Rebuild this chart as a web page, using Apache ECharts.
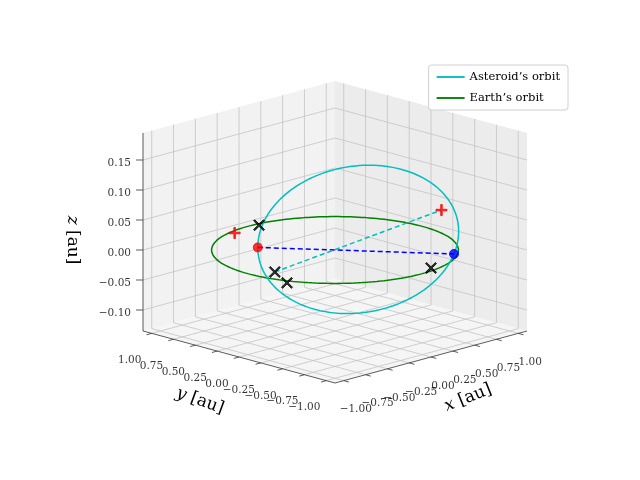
<!DOCTYPE html>
<html><head><meta charset="utf-8">
<script src="https://cdn.jsdelivr.net/npm/echarts@6/dist/echarts.min.js"></script>
<style>html,body{margin:0;padding:0;background:#fff}#c{width:640px;height:480px}</style>
</head><body><div id="c"></div>
<script>
// ---- data ----
const X_TICKS = [-1, -0.75, -0.5, -0.25, 0, 0.25, 0.5, 0.75, 1];
const Y_TICKS = [-1, -0.75, -0.5, -0.25, 0, 0.25, 0.5, 0.75, 1];
const Z_TICKS = [-0.1, -0.05, 0, 0.05, 0.1, 0.15];
const XY_LIM = [-1.1, 1.1];
const Z_LIM = [-0.135, 0.195];
// orbital elements: a [au], e, i [deg], Omega [deg], omega [deg]
const EARTH_ELEMENTS = [1.0, 0.0, 0, 0, 0];
const ASTEROID_ELEMENTS = [0.82, 0.26, 5.7, -52, 215];
const PLUS_POINTS = [[-0.85, 0.30, 0.05], [0.82, -0.40, 0.05]];
const CROSS_POINTS = [[0.09, 0.96, 0], [-0.81, -0.12, 0], [-0.97, -0.42, 0], [0.17, -0.93, 0]];
const CYAN_DASH = [[-0.81, -0.12, 0], [0.82, -0.40, 0.05]];

// ---- projection ----
const FONT = 'DejaVu Serif';
function P(x, y, z) {
  const X = x / 1.1, Y = y / 1.1;
  return [335 + 96 * (X - Y), 250 - 26 * (X + Y) - 600 * z];
}
function orbit(el, u) {
  const [a, e, i, O, w] = el;
  const ir = i * Math.PI / 180, Or = O * Math.PI / 180, wr = w * Math.PI / 180;
  const nu = u - wr;
  const r = a * (1 - e * e) / (1 + e * Math.cos(nu));
  return [r * (Math.cos(Or) * Math.cos(u) - Math.sin(Or) * Math.sin(u) * Math.cos(ir)),
          r * (Math.sin(Or) * Math.cos(u) + Math.cos(Or) * Math.sin(u) * Math.cos(ir)),
          r * Math.sin(u) * Math.sin(ir)];
}
function orbitPts(el) {
  const out = [];
  for (let k = 0; k <= 200; k++) { const p = orbit(el, k / 200 * 2 * Math.PI); out.push(P(p[0], p[1], p[2])); }
  return out;
}
const [L, H] = XY_LIM, [ZB, ZT] = Z_LIM;
const series = [];
function poly(pts3, color) {
  const pts = pts3.map(p => P(p[0], p[1], p[2]));
  series.push({ type: 'custom', silent: true, z: 1, data: [0],
    renderItem: (params, api) => ({ type: 'polygon', shape: { points: pts.map(p => api.coord(p)) },
      style: { fill: color, stroke: null } }) });
}
function line(pts3, color, width, type, z) {
  series.push({ type: 'line', data: pts3.map(p => P(p[0], p[1], p[2])), showSymbol: false, silent: true,
    z: z || 2, lineStyle: { color: color, width: width, type: type || 'solid' } });
}
// panes
poly([[L, H, ZB], [H, H, ZB], [H, H, ZT], [L, H, ZT]], '#f2f2f2');
poly([[H, L, ZB], [H, H, ZB], [H, H, ZT], [H, L, ZT]], '#ececec');
poly([[L, L, ZB], [H, L, ZB], [H, H, ZB], [L, H, ZB]], '#f5f5f5');
const G = '#c4c4c4';
X_TICKS.forEach(x => { line([[x, H, ZB], [x, H, ZT]], G, 0.8); line([[x, L, ZB], [x, H, ZB]], G, 0.8); });
Y_TICKS.forEach(y => { line([[H, y, ZB], [H, y, ZT]], G, 0.8); line([[L, y, ZB], [H, y, ZB]], G, 0.8); });
Z_TICKS.forEach(z => { line([[L, H, z], [H, H, z], [H, L, z]], G, 0.8); });
// axis edges
line([[L, L, ZB], [H, L, ZB]], '#333', 0.8);
line([[L, L, ZB], [L, H, ZB]], '#333', 0.8);
line([[L, H, ZB], [L, H, ZT]], '#333', 0.8);
// ticks
X_TICKS.forEach(x => line([[x, L, ZB], [x, L - 0.06, ZB]], '#333', 0.8));
Y_TICKS.forEach(y => line([[L, y, ZB], [L - 0.06, y, ZB]], '#333', 0.8));
Z_TICKS.forEach(z => line([[L, H, z], [L - 0.04, H + 0.04, z]], '#333', 0.8));
// tick labels
const fmt = v => (v < 0 ? '\u2212' : '') + Math.abs(v).toFixed(2);
function labels(pts, texts, dx, dy, align) {
  series.push({ type: 'scatter', symbolSize: 0, silent: true, z: 3,
    data: pts.map((p, k) => ({ value: P(p[0], p[1], p[2]), label: { formatter: texts[k] } })),
    label: { show: true, position: 'inside', offset: [dx, dy], align: align || 'center', verticalAlign: 'middle',
      fontFamily: FONT, fontSize: 10.5, color: '#000' } });
}
labels(X_TICKS.map(x => [x, L, ZB]), X_TICKS.map(fmt), 12, 29);
labels(Y_TICKS.map(y => [L, y, ZB]), Y_TICKS.map(fmt), -22, 27);
labels(Z_TICKS.map(z => [L, H, z]), Z_TICKS.map(fmt), -12, 3, 'right');
// orbits
series.push({ name: 'Earth\u2019s orbit', type: 'line', data: orbitPts(EARTH_ELEMENTS), showSymbol: false, z: 5,
  lineStyle: { color: '#008000', width: 1.5 }, itemStyle: { color: '#008000' } });
series.push({ name: 'Asteroid\u2019s orbit', type: 'line', data: orbitPts(ASTEROID_ELEMENTS), showSymbol: false, z: 5,
  lineStyle: { color: '#00bfbf', width: 1.5 }, itemStyle: { color: '#00bfbf' } });
const n1 = orbit(ASTEROID_ELEMENTS, Math.PI), n2 = orbit(ASTEROID_ELEMENTS, 0);
line([n1, n2], '#0000ff', 1.5, [5, 3], 6);
line(CYAN_DASH, '#00bfbf', 1.5, [5, 3], 6);
function pts(list, sym, size, color, z) {
  series.push({ type: 'scatter', data: list.map(p => P(p[0], p[1], p[2])), symbol: sym, symbolSize: size,
    silent: true, z: z || 8, itemStyle: { color: color, borderColor: color } });
}
pts([n1], 'circle', 9, '#ff0000');
pts([n2], 'circle', 9, '#0000ff');
const PLUS = 'path://M4.3,0H5.7V4.3H10V5.7H5.7V10H4.3V5.7H0V4.3H4.3Z';
const CROSS = 'path://M1,0L5,4L9,0L10,1L6,5L10,9L9,10L5,6L1,10L0,9L4,5L0,1Z';
pts(PLUS_POINTS, PLUS, 11, '#ff0000');
pts(CROSS_POINTS, CROSS, 11, '#000000');

const chart = echarts.init(document.getElementById('c'));
chart.setOption({
  animation: false,
  grid: { left: 0, right: 0, top: 0, bottom: 0 },
  xAxis: { type: 'value', min: 0, max: 640, show: false },
  yAxis: { type: 'value', min: 0, max: 480, inverse: true, show: false },
  legend: { data: ['Asteroid\u2019s orbit', 'Earth\u2019s orbit'], orient: 'vertical', right: 72, top: 65,
    icon: 'path://M0,4H30V6H0Z', itemWidth: 28, itemHeight: 3, itemGap: 9,
    backgroundColor: '#fff', borderColor: '#d0d0d0', borderWidth: 1, borderRadius: 3, padding: [6, 8],
    textStyle: { fontFamily: FONT, fontSize: 11.5, color: '#000' } },
  graphic: [
    { type: 'text', x: 468, y: 398, rotation: 22 * Math.PI / 180, style: { text: '{i|x} [au]', rich: { i: { fontStyle: 'italic', fontFamily: FONT, fontSize: 17 } }, fontFamily: FONT, fontSize: 17, align: 'center', verticalAlign: 'middle', fill: '#000' } },
    { type: 'text', x: 200, y: 401, rotation: -20 * Math.PI / 180, style: { text: '{i|y} [au]', rich: { i: { fontStyle: 'italic', fontFamily: FONT, fontSize: 17 } }, fontFamily: FONT, fontSize: 17, align: 'center', verticalAlign: 'middle', fill: '#000' } },
    { type: 'text', x: 72, y: 240, rotation: -Math.PI / 2, style: { text: '{i|z} [au]', rich: { i: { fontStyle: 'italic', fontFamily: FONT, fontSize: 17 } }, fontFamily: FONT, fontSize: 17, align: 'center', verticalAlign: 'middle', fill: '#000' } }
  ],
  series: series
});
</script></body></html>
